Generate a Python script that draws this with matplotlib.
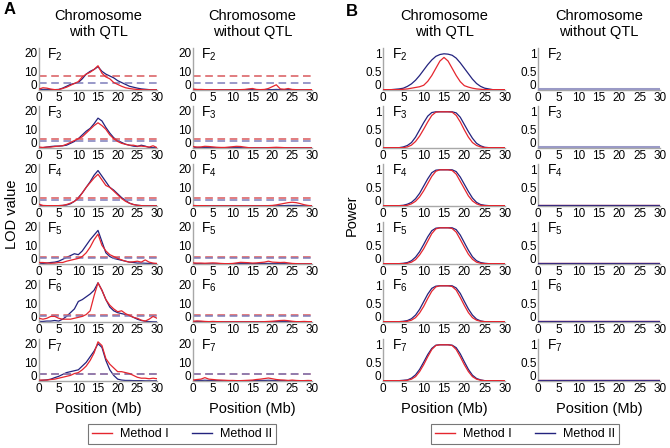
import numpy as np
import matplotlib
matplotlib.use('Agg')
import matplotlib.pyplot as plt
import matplotlib.transforms as mtransforms
from matplotlib.lines import Line2D

plt.rcParams['font.family'] = ['Liberation Sans', 'DejaVu Sans']
plt.rcParams['mathtext.fontset'] = 'custom'
plt.rcParams['mathtext.rm'] = 'Liberation Sans'

# positions along chromosome (Mb)
pos = np.arange(31)
gens = ['2', '3', '4', '5', '6', '7']

# ---- panel A: LOD, chromosome with QTL ----
lod_qtl_m1 = [
    [0.5, 1.2, 1, 0.5, 0.2, 0.2, 0.8, 1.5, 2.5, 3.5, 4.5, 7, 8.5, 9.5, 11, 13, 9, 7, 6, 4, 3, 2, 1.2, 0.8, 0.5, 0.3, 0.2, 0.1, 0.1, 0.1, 0.1],
    [0.5, 0.3, 0.5, 0.5, 0.8, 1, 1.2, 2, 3, 4, 5, 6, 8, 10, 12, 13.5, 12, 10, 7, 5, 3.5, 2.5, 2, 1.5, 1.5, 1, 1, 0.8, 0.5, 1.2, 0.2],
    [1, 0.3, 0.2, 0.2, 0.2, 0.2, 0.3, 0.8, 1.5, 2.5, 4, 7, 10, 12.5, 15, 17, 14, 11, 10, 8, 6, 4, 2.5, 1.5, 0.8, 0.4, 0.2, 0.1, 0.1, 0.1, 0.1],
    [0.8, 0.8, 0.6, 0.4, 0.5, 0.8, 0.8, 1.5, 2, 2.5, 3, 4, 6, 9, 13, 16, 10, 7, 5, 4, 3, 2.2, 1.5, 1, 1.2, 1.5, 1, 2.2, 1, 0.5, 0.3],
    [2, 1.5, 2, 3, 3, 2, 1.5, 1.5, 1.5, 2, 2.5, 3, 4, 6, 14, 21, 17, 12, 9, 7, 5.5, 6, 4.5, 3.5, 2.5, 2, 1, 0.5, 1.5, 3, 2],
    [0.5, 0.5, 0.5, 0.8, 1, 1.5, 2, 2.5, 3, 4, 4.5, 6, 8, 11, 15, 21, 19, 12, 9, 7, 5, 5, 4.5, 4, 3, 2, 1.5, 1.5, 1.2, 1.5, 1.2],
]
lod_qtl_m2 = [
    [0.2, 0.3, 0.3, 0.2, 0.2, 0.3, 1, 2, 3, 3.5, 4, 6, 8.5, 10, 11, 12.5, 10, 8.5, 7.5, 6.5, 5, 4, 3, 2, 1.5, 1, 0.6, 0.4, 0.2, 0.1, 0.1],
    [0, 0.2, 0.5, 0.8, 1, 1, 1.2, 1.5, 2.5, 3.5, 5, 7, 9, 10.5, 13, 16, 14.5, 11, 8, 5.5, 4, 3, 2, 1.5, 1, 0.8, 1.5, 1, 0.3, 0.2, 0.1],
    [0.2, 0.2, 0.2, 0.2, 0.2, 0.2, 0.3, 0.5, 1.2, 2.5, 4.5, 7, 10, 13, 16.5, 19, 16, 13, 10, 8.5, 6.5, 4.5, 3, 1.5, 0.8, 0.4, 0.2, 0.1, 0.1, 0.1, 0.1],
    [0.2, 0.3, 0.5, 0.8, 1, 1.5, 2.5, 3.5, 4.5, 5.5, 5, 7, 10, 13, 15.5, 18, 12, 6, 4, 3, 2.5, 2, 1.5, 1, 0.8, 0.5, 0.5, 0.4, 0.3, 0.2, 0.1],
    [0.3, 0.3, 0.5, 0.5, 0.8, 0.5, 1.5, 3, 5, 7, 11, 12, 13.5, 15, 17, 21, 17, 12, 8, 6, 5, 4.5, 4, 3.5, 2.5, 1.5, 0.8, 0.4, 0.2, 0.1, 0.1],
    [0.2, 0.4, 0.6, 1, 1.8, 2.5, 3.5, 4.5, 5, 5.5, 6, 8, 10, 13, 16, 20, 18, 11, 6, 3, 1, 0.5, 0.3, 0.3, 0.2, 0.2, 0.2, 0.1, 0.1, 0.1, 0.1],
]

# ---- panel A: LOD, chromosome without QTL ----
lod_noqtl_m1 = [
    [0.5, 0.3, 0.3, 0.2, 0.2, 0.1, 0.1, 0.1, 0.1, 0.1, 0.1, 0.1, 0.2, 0.3, 0.6, 0.8, 0.3, 0.2, 0.3, 0.8, 1.8, 2.8, 0.6, 0.4, 0.8, 0.3, 0.2, 0.1, 0.1, 0.2, 0.2],
    [0.8, 0.5, 0.6, 0.9, 0.8, 0.6, 0.4, 0.3, 0.3, 0.5, 0.7, 0.9, 0.8, 0.5, 0.2, 0.1, 0.1, 0.1, 0.1, 0.2, 0.3, 0.4, 0.3, 0.2, 0.1, 0.1, 0.1, 0.1, 0.1, 0.1, 0.1],
    [0.3, 0.2, 0.2, 0.2, 0.1, 0.1, 0.1, 0.1, 0.1, 0.1, 0.1, 0.1, 0.1, 0.1, 0.1, 0.1, 0.1, 0.1, 0.1, 0.2, 0.3, 0.6, 1.0, 1.4, 1.8, 2.0, 1.8, 1.3, 0.7, 0.3, 0.1],
    [0.6, 0.5, 0.5, 0.4, 0.5, 0.6, 0.5, 0.3, 0.2, 0.2, 0.3, 0.6, 0.9, 0.8, 0.7, 0.5, 0.6, 0.8, 1.0, 1.5, 1.0, 0.9, 0.8, 0.9, 0.6, 0.3, 0.2, 0.1, 0.1, 0.1, 0.1],
    [0.4, 0.6, 0.5, 0.3, 0.2, 0.3, 0.2, 0.2, 0.1, 0.1, 0.1, 0.1, 0.1, 0.1, 0.1, 0.1, 0.1, 0.1, 0.2, 0.3, 0.4, 0.6, 0.8, 0.9, 0.7, 0.4, 0.2, 0.2, 0.3, 0.2, 0.2],
    [0.5, 0.8, 1.0, 1.8, 1.0, 0.8, 0.6, 0.5, 0.4, 0.3, 0.3, 0.2, 0.2, 0.3, 0.4, 0.5, 0.8, 1.0, 1.3, 1.6, 1.2, 0.8, 0.6, 0.5, 0.3, 0.5, 0.3, 0.2, 0.2, 0.3, 0.2],
]
lod_noqtl_m2 = [
    [0.3, 0.2, 0.2, 0.2, 0.1, 0.1, 0.1, 0.1, 0.1, 0.1, 0.1, 0.1, 0.1, 0.2, 0.2, 0.2, 0.1, 0.1, 0.1, 0.2, 0.2, 0.3, 0.2, 0.2, 0.2, 0.1, 0.1, 0.1, 0.1, 0.1, 0.1],
    [0.3, 0.3, 0.2, 0.2, 0.2, 0.2, 0.1, 0.1, 0.1, 0.2, 0.2, 0.2, 0.2, 0.1, 0.1, 0.1, 0.1, 0.1, 0.1, 0.1, 0.1, 0.1, 0.1, 0.1, 0.1, 0.1, 0.1, 0.1, 0.1, 0.1, 0.1],
    [0.2, 0.2, 0.1, 0.1, 0.1, 0.1, 0.1, 0.1, 0.1, 0.1, 0.1, 0.1, 0.1, 0.1, 0.1, 0.1, 0.1, 0.1, 0.1, 0.1, 0.1, 0.1, 0.2, 0.2, 0.3, 0.3, 0.3, 0.2, 0.1, 0.1, 0.1],
    [0.2, 0.2, 0.2, 0.1, 0.1, 0.1, 0.1, 0.1, 0.1, 0.1, 0.1, 0.2, 0.3, 0.3, 0.2, 0.2, 0.2, 0.2, 0.3, 0.3, 0.2, 0.2, 0.2, 0.2, 0.1, 0.1, 0.1, 0.1, 0.1, 0.1, 0.1],
    [0.2, 0.2, 0.2, 0.1, 0.1, 0.1, 0.1, 0.1, 0.1, 0.1, 0.1, 0.1, 0.1, 0.1, 0.1, 0.1, 0.1, 0.1, 0.1, 0.1, 0.2, 0.2, 0.2, 0.3, 0.2, 0.2, 0.1, 0.1, 0.1, 0.1, 0.1],
    [0.2, 0.3, 0.3, 0.4, 0.3, 0.2, 0.2, 0.2, 0.1, 0.1, 0.1, 0.1, 0.1, 0.1, 0.1, 0.2, 0.2, 0.3, 0.3, 0.4, 0.3, 0.2, 0.2, 0.2, 0.1, 0.1, 0.1, 0.1, 0.1, 0.1, 0.1],
]

# significance thresholds (Method I, Method II)
thr_m1 = [7.5, 5.0, 4.5, 4.0, 4.0, 4.0]
thr_m2 = [3.5, 3.5, 3.0, 3.2, 3.0, 3.6]

# ---- panel B: power, chromosome with QTL ----
pow_qtl_m1 = [
    [0.01, 0.01, 0.01, 0.01, 0.01, 0.02, 0.03, 0.05, 0.07, 0.09, 0.13, 0.24, 0.4, 0.6, 0.8, 0.9, 0.8, 0.6, 0.4, 0.23, 0.12, 0.08, 0.05, 0.03, 0.02, 0.01, 0.01, 0.01, 0.01, 0.01, 0.01],
    [0.01, 0.01, 0.01, 0.01, 0.01, 0.01, 0.03, 0.08, 0.18, 0.33, 0.52, 0.72, 0.9, 0.99, 1, 1, 1, 0.99, 0.9, 0.72, 0.5, 0.3, 0.15, 0.07, 0.03, 0.01, 0.01, 0.01, 0.01, 0.01, 0.01],
    [0.01, 0.01, 0.01, 0.01, 0.01, 0.01, 0.02, 0.06, 0.13, 0.25, 0.42, 0.62, 0.82, 0.96, 1, 1, 1, 0.98, 0.88, 0.68, 0.48, 0.28, 0.14, 0.06, 0.02, 0.01, 0.01, 0.01, 0.01, 0.01, 0.01],
    [0.01, 0.01, 0.01, 0.01, 0.01, 0.01, 0.02, 0.05, 0.12, 0.25, 0.42, 0.63, 0.84, 0.97, 1, 1, 1, 0.98, 0.88, 0.68, 0.47, 0.27, 0.13, 0.05, 0.02, 0.01, 0.01, 0.01, 0.01, 0.01, 0.01],
    [0.01, 0.01, 0.01, 0.01, 0.01, 0.01, 0.02, 0.05, 0.12, 0.25, 0.43, 0.65, 0.85, 0.97, 1, 1, 1, 0.98, 0.88, 0.68, 0.46, 0.26, 0.12, 0.05, 0.02, 0.01, 0.01, 0.01, 0.01, 0.01, 0.01],
    [0.01, 0.01, 0.01, 0.01, 0.01, 0.01, 0.02, 0.05, 0.12, 0.26, 0.45, 0.67, 0.87, 0.98, 1, 1, 1, 0.98, 0.87, 0.67, 0.45, 0.26, 0.12, 0.05, 0.02, 0.01, 0.01, 0.01, 0.01, 0.01, 0.01],
]
pow_qtl_m2 = [
    [0.01, 0.01, 0.01, 0.02, 0.03, 0.05, 0.1, 0.17, 0.27, 0.4, 0.55, 0.7, 0.83, 0.93, 0.98, 1.0, 0.99, 0.96, 0.88, 0.75, 0.6, 0.45, 0.3, 0.18, 0.1, 0.05, 0.03, 0.01, 0.01, 0.01, 0.01],
    [0.01, 0.01, 0.01, 0.01, 0.01, 0.03, 0.07, 0.15, 0.3, 0.5, 0.7, 0.88, 0.98, 1, 1, 1, 1, 1, 0.97, 0.85, 0.65, 0.45, 0.27, 0.13, 0.06, 0.02, 0.01, 0.01, 0.01, 0.01, 0.01],
    [0.01, 0.01, 0.01, 0.01, 0.01, 0.02, 0.05, 0.1, 0.2, 0.35, 0.55, 0.75, 0.92, 0.99, 1, 1, 1, 1, 0.95, 0.8, 0.6, 0.4, 0.22, 0.1, 0.04, 0.02, 0.01, 0.01, 0.01, 0.01, 0.01],
    [0.01, 0.01, 0.01, 0.01, 0.01, 0.02, 0.04, 0.09, 0.19, 0.34, 0.54, 0.75, 0.92, 0.99, 1, 1, 1, 1, 0.95, 0.8, 0.59, 0.38, 0.2, 0.09, 0.04, 0.02, 0.01, 0.01, 0.01, 0.01, 0.01],
    [0.01, 0.01, 0.01, 0.01, 0.01, 0.02, 0.04, 0.09, 0.19, 0.35, 0.56, 0.77, 0.93, 0.99, 1, 1, 1, 1, 0.94, 0.79, 0.57, 0.36, 0.19, 0.08, 0.03, 0.01, 0.01, 0.01, 0.01, 0.01, 0.01],
    [0.01, 0.01, 0.01, 0.01, 0.01, 0.02, 0.03, 0.08, 0.17, 0.32, 0.52, 0.73, 0.9, 0.99, 1, 1, 1, 0.99, 0.92, 0.75, 0.53, 0.32, 0.16, 0.07, 0.03, 0.01, 0.01, 0.01, 0.01, 0.01, 0.01],
]

# ---- panel B: power, chromosome without QTL (flat near zero) ----
pow_noqtl_m1 = [[0.02] * 31 for _ in gens]
pow_noqtl_m2 = [[0.03] * 31 for _ in gens]

RED = '#e5262e'
BLUE = '#23237e'
RED_D = '#d9585c'
BLUE_D = '#7d7dbb'
SPINE = '#a8a8a8'

W, H = 670, 448
fig = plt.figure(figsize=(W / 100, H / 100), dpi=100)

col_px = [(39, 157), (193, 312), (383, 505), (538, 660)]
row_bot = [90, 148, 206, 264, 322, 381]
ax_h = 42


def make_ax(ci, ri, yticks, ylabels, ytop):
    x0, x1 = col_px[ci]
    b = row_bot[ri]
    ax = fig.add_axes([x0 / W, 1 - b / H, (x1 - x0) / W, ax_h / H])
    for s in ['top', 'right']:
        ax.spines[s].set_visible(False)
    for s in ['left', 'bottom']:
        ax.spines[s].set_color(SPINE)
        ax.spines[s].set_linewidth(1.0)
    ax.tick_params(length=0, labelsize=8.5)
    ax.tick_params(axis='x', pad=1.5)
    ax.tick_params(axis='y', pad=1)
    ax.set_xlim(0, 30)
    ax.set_xticks([0, 5, 10, 15, 20, 25, 30])
    ax.set_ylim(0, ytop)
    # y "0" drawn separately, sitting at the corner so it clears the x "0"
    ax.set_yticks(yticks)
    ax.set_yticklabels([''] + ylabels[1:])
    tr = ax.get_yaxis_transform() + mtransforms.ScaledTranslation(0, -1.6 / 72, fig.dpi_scale_trans)
    ax.text(-0.012, 0, ylabels[0], transform=tr, ha='right', va='bottom', fontsize=8.5)
    ax.text(0.07, 0.85, r'F$_{\mathregular{%s}}$' % gens[ri], transform=ax.transAxes,
            fontsize=10, va='center', ha='left')
    return ax


lod_ticks, lod_labels = [0, 10, 20], ['0', '10', '20']
pow_ticks, pow_labels = [0, 0.5, 1], ['0', '0.5', '1']
dash = (0, (5, 3))

for ri in range(6):
    # A with QTL
    ax = make_ax(0, ri, lod_ticks, lod_labels, 22.5)
    ax.plot(pos, lod_qtl_m1[ri], color=RED, lw=0.9, zorder=3)
    ax.plot(pos, lod_qtl_m2[ri], color=BLUE, lw=0.9, zorder=2)
    ax.axhline(thr_m1[ri], color=RED_D, lw=1.1, ls=dash)
    ax.axhline(thr_m2[ri], color=BLUE_D, lw=1.1, ls=dash)
    # A without QTL
    ax = make_ax(1, ri, lod_ticks, lod_labels, 22.5)
    ax.plot(pos, lod_noqtl_m1[ri], color=RED, lw=0.9, zorder=3)
    ax.plot(pos, lod_noqtl_m2[ri], color=BLUE, lw=0.9, zorder=2)
    ax.axhline(thr_m1[ri], color=RED_D, lw=1.1, ls=dash)
    ax.axhline(thr_m2[ri], color=BLUE_D, lw=1.1, ls=dash)
    # B with QTL
    ax = make_ax(2, ri, pow_ticks, pow_labels, 1.16)
    ax.plot(pos, pow_qtl_m1[ri], color=RED, lw=0.9, zorder=3)
    ax.plot(pos, pow_qtl_m2[ri], color=BLUE, lw=0.9, zorder=2)
    # B without QTL: both methods overlap along zero
    ax = make_ax(3, ri, pow_ticks, pow_labels, 1.16)
    if ri < 2:
        ax.plot(pos, pow_noqtl_m1[ri], color='#b0a8c8', lw=2.2, zorder=2)
        ax.plot(pos, pow_noqtl_m2[ri], color='#9a9ac6', lw=1.4, zorder=3)
    else:
        ax.plot(pos, pow_noqtl_m1[ri], color=RED, lw=0.9, zorder=2)
        ax.plot(pos, pow_noqtl_m2[ri], color='#3a2a80', lw=0.9, zorder=3)

# column titles and axis labels
titles = ['Chromosome\nwith QTL', 'Chromosome\nwithout QTL']
for ci, (x0, x1) in enumerate(col_px):
    xc = (x0 + x1) / 2 / W
    fig.text(xc, 1 - 24 / H, titles[ci % 2], ha='center', va='center',
             fontsize=10.5, linespacing=1.25)
    fig.text(xc, 1 - 409 / H, 'Position (Mb)', ha='center', va='center', fontsize=10.5)

fig.text(10 / W, 1 - 10 / H, 'A', fontsize=12, fontweight='bold', ha='center', va='center')
fig.text(352 / W, 1 - 11 / H, 'B', fontsize=12, fontweight='bold', ha='center', va='center')
fig.text(12 / W, 1 - 214 / H, 'LOD value', rotation=90, fontsize=10.5, ha='center', va='center')
fig.text(352 / W, 1 - 215 / H, 'Power', rotation=90, fontsize=10.5, ha='center', va='center')

handles = [Line2D([], [], color=RED, lw=1), Line2D([], [], color=BLUE, lw=1)]
labels = ['Method I', 'Method II']
for xc in [182 / W, 525 / W]:
    leg = fig.legend(handles, labels, loc='center', bbox_to_anchor=(xc, 1 - 434 / H),
                     ncol=2, fontsize=9, frameon=True, fancybox=False,
                     handlelength=1.6, handletextpad=0.6, columnspacing=1.9,
                     borderpad=0.35, borderaxespad=0)
    leg.get_frame().set_edgecolor('#555555')
    leg.get_frame().set_linewidth(0.8)

fig.savefig('out.png', dpi=100)
